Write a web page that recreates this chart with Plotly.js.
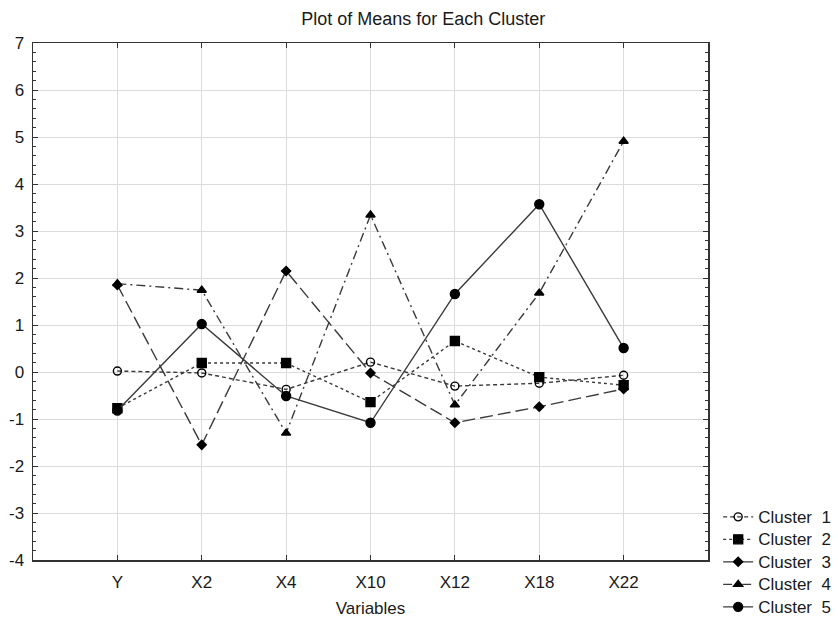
<!DOCTYPE html>
<html>
<head>
<meta charset="utf-8">
<script src="https://cdn.plot.ly/plotly-3.0.1.min.js"></script>
<style>html,body{margin:0;padding:0;background:#fff;}#chart{width:838px;height:618px;}</style>
</head>
<body>
<div id="chart"></div>
<script>
var variables = ["Y", "X2", "X4", "X10", "X12", "X18", "X22"];
var cluster1 = [0.02, -0.02, -0.37, 0.21, -0.30, -0.24, -0.07];
var cluster2 = [-0.77, 0.19, 0.19, -0.64, 0.66, -0.11, -0.28];
var cluster3 = [1.85, -1.55, 2.15, -0.02, -1.08, -0.74, -0.36];
var cluster4 = [1.88, 1.74, -1.30, 3.34, -0.70, 1.68, 4.91];
var cluster5 = [-0.82, 1.02, -0.51, -1.08, 1.66, 3.57, 0.51];
var names = ["Cluster\u00a0 1", "Cluster\u00a0 2", "Cluster\u00a0 3", "Cluster\u00a0 4", "Cluster\u00a0 5"];
var yTickVals = [-4, -3, -2, -1, 0, 1, 2, 3, 4, 5, 6, 7];
var yTickText = yTickVals.map(function (v) { return String(v); });

var lineColor = "#3a3a3a";
var textColor = "#1a1a1a";
function tr(y, name, dash, symbol, size) {
  return {
    x: variables, y: y, name: '<span style="font-size:17px">' + name + '</span>',
    type: "scatter", mode: "lines+markers",
    line: {color: lineColor, width: 1.4, dash: dash},
    marker: {symbol: symbol, size: size, color: "#000", line: {color: "#000", width: 1.4}}
  };
}
var data = [
  tr(cluster1, names[0], "4px,3px", "circle-open", 8),
  tr(cluster2, names[1], "dot", "square", 9),
  tr(cluster3, names[2], "13px,5px", "diamond", 7),
  tr(cluster4, names[3], "9px,4px,2px,4px", "triangle-up", 8),
  tr(cluster5, names[4], "solid", "circle", 9)
];

var layout = {
  width: 838, height: 618,
  margin: {l: 33, r: 130, t: 43, b: 58},
  paper_bgcolor: "#fff", plot_bgcolor: "#fff",
  font: {family: "Liberation Sans, Arial, sans-serif", color: textColor, size: 17},
  title: {text: "Plot of Means for Each Cluster", font: {size: 18, color: textColor}, x: 0.505, xref: "container", xanchor: "center", y: 0.969, yref: "container", yanchor: "middle"},
  showlegend: true,
  legend: {xref: "container", yref: "container", x: 0.857, xanchor: "left", y: 0.19, yanchor: "top", font: {size: 15, color: textColor}, bgcolor: "rgba(0,0,0,0)", tracegroupgap: 0},
  xaxis: {
    type: "category", range: [-1, 7], showgrid: true, gridcolor: "#dcdcdc", gridwidth: 1,
    showline: true, linecolor: "#333", linewidth: 1.5, mirror: "ticks",
    ticks: "inside", ticklen: 5, tickcolor: "#333",
    minor: {ticks: "inside", ticklen: 3, dtick: 0.25, tickcolor: "#333", showgrid: false},
    tickfont: {size: 17, color: textColor}, ticklabelstandoff: 6,
    title: {text: "Variables", font: {size: 17, color: textColor}, standoff: 12},
    automargin: false, zeroline: false, fixedrange: true
  },
  yaxis: {
    range: [-4, 7], tickmode: "array", tickvals: yTickVals, ticktext: yTickText,
    showgrid: true, gridcolor: "#dcdcdc", gridwidth: 1,
    showline: true, linecolor: "#333", linewidth: 1.5, mirror: "ticks",
    ticks: "inside", ticklen: 5, tickcolor: "#333",
    minor: {ticks: "inside", ticklen: 3, dtick: 0.2, tickcolor: "#333", showgrid: false},
    tickfont: {size: 17, color: textColor}, ticklabelstandoff: 4,
    automargin: false, zeroline: false, fixedrange: true
  }
};
Plotly.newPlot("chart", data, layout, {displayModeBar: false, staticPlot: true});
</script>
</body>
</html>
